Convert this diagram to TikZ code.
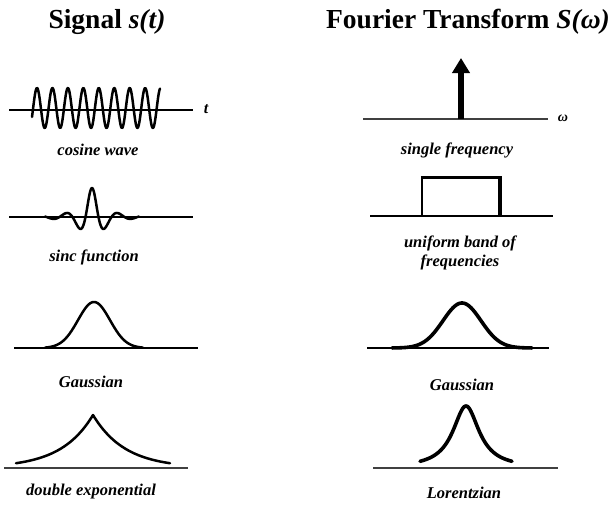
\documentclass[tikz,border=0pt]{standalone}
\usepackage{fontspec}
\setmainfont{Liberation Serif}
\usetikzlibrary{arrows.meta}
\begin{document}
\begin{tikzpicture}[x=1pt,y=-1pt,
  title/.style={font=\fontsize{27.5}{30}\selectfont\bfseries, inner sep=0pt},
  captext/.style={font=\fontsize{16.5}{19}\selectfont\bfseries\itshape, inner sep=0pt, align=center},
  varlabel/.style={font=\fontsize{16}{18}\selectfont\bfseries\itshape, inner sep=0pt},
  axisk/.style={line width=2pt, line cap=butt},
  axisg/.style={line width=1.5pt, black!75},
  curve/.style={line width=2.5pt, line join=round, line cap=round},
  thickcurve/.style={line width=3.6pt, line join=round, line cap=round},
]
\useasboundingbox[fill=white] (0,0) rectangle (613,506);

% titles
\node[title] (tleft) at (107,22) {Signal \textit{s(t)}};
\node[title] (tright) at (468,22) {Fourier Transform \textit{S(ω)}};

% cosine wave
\draw[axisk] (9,110) -- (193,110);
\draw[curve] plot[domain=32:160, samples=260] (\x, {108 - 20*cos((\x-37)*23.3)});
\node[varlabel] (tlab) at (206,109) {t};
\node[captext] (ccos) at (98,150) {cosine wave};

% sinc
\draw[axisk] (9,217) -- (193,217);
\draw[curve] plot[domain=45:139, samples=200] (\x, {217 - 29*cos((\x-92)*13.846)/(1+(\x-92)*(\x-92)/104)});
\node[captext] (csinc) at (94,257) {sinc function};

% gaussian left
\draw[line width=1.8pt] (14,348) -- (198,348);
\draw[curve] plot[domain=45:143, samples=120] (\x, {348 - 46*exp(-(\x-94)*(\x-94)/512)});
\node[captext] (cgl) at (91,382) {Gaussian};

% double exponential
\draw[axisg] (4,468) -- (188,468);
\draw[curve] plot[domain=16:170, samples=155] (\x, {468 - 53*exp(-abs(\x-93)/32)});
\node[captext] (cde) at (91,492) {double exponential};

% single frequency
\coordinate (abase) at (461,119);
\coordinate (atip) at (461,58);
\draw[axisg] (363,119) -- (548,119);
\draw[line width=6pt, -{Triangle[width=17pt,length=15pt]}] (abase) -- (atip);
\node[font=\fontsize{14}{16}\selectfont\bfseries\itshape, inner sep=0pt] (wlab) at (563,118) {ω};
\node[captext] (csf) at (457,150) {single frequency};

% uniform band
\draw[line width=1.8pt] (370,216) -- (553,216);
\draw[line width=2.5pt] (422,216) -- (422,177.5);
\draw[line width=3pt] (420.8,177.5) -- (502,177.5);
\draw[line width=4pt] (500,176) -- (500,216);
\node[captext] (cub) at (460,252.5) {uniform band of\\frequencies};

% gaussian right
\draw[line width=1.8pt] (367,348) -- (549,348);
\draw[thickcurve] plot[domain=392:532, samples=140] (\x, {348 - 45*exp(-(\x-462)*(\x-462)/722)});
\node[captext] (cgr) at (462,385) {Gaussian};

% lorentzian
\draw[axisg] (373,468) -- (558,468);
\draw[thickcurve] plot[domain=420:512, samples=140] (\x, {468 - 62/(1+(\x-466)*(\x-466)/256)});
\node[captext] (clor) at (464,493) {Lorentzian};
\end{tikzpicture}
\end{document}
